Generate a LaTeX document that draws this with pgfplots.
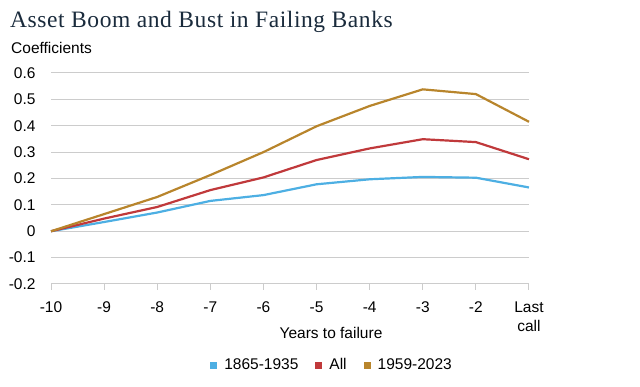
\documentclass[border=0pt]{standalone}
\usepackage{pgfplots}
\pgfplotsset{compat=1.18}
\usepackage{fontspec}
\setmainfont{Liberation Sans}
\newfontfamily\titlefont[LetterSpace=2.5]{Liberation Serif}
\definecolor{cblue}{HTML}{4DAFE3}
\definecolor{cred}{HTML}{C0393B}
\definecolor{cgold}{HTML}{B8852C}
\definecolor{navy}{HTML}{1A2B3C}
\definecolor{gridc}{HTML}{CCCCCC}
\begin{document}
\begin{tikzpicture}
\path[use as bounding box] (0pt,0pt) rectangle (640pt,387pt);
\node[anchor=base west,text=navy,font=\titlefont\fontsize{23.5}{27}\selectfont,inner sep=0pt] at (10pt,359pt) {Asset Boom and Bust in Failing Banks};
\node[anchor=west,font=\fontsize{15.5}{18}\selectfont,inner sep=0pt] at (11pt,339pt) {Coefficients};
\node[font=\fontsize{15.5}{18}\selectfont] at (331pt,54pt) {Years to failure};
\begin{axis}[
  at={(51pt,103pt)}, anchor=south west,
  scale only axis, width=478pt, height=211pt,
  xmin=0, xmax=9, ymin=-0.2, ymax=0.6,
  xtick={0,...,9},
  xticklabels={-10,-9,-8,-7,-6,-5,-4,-3,-2,{Last\\call}},
  xticklabel style={align=center, font=\fontsize{15.5}{19}\selectfont, yshift=-8pt},
  ytick={-0.2,-0.1,0,0.1,0.2,0.3,0.4,0.5,0.6},
  yticklabels={-0.2,-0.1,0,0.1,0.2,0.3,0.4,0.5,0.6},
  yticklabel style={font=\fontsize{15.5}{18}\selectfont, xshift=-6pt},
  /pgf/number format/assume math mode=true,
  axis x line*=bottom, axis y line*=left,
  y axis line style={draw=none},
  x axis line style={draw=gridc, line width=1pt},
  ytick style={draw=none},
  xtick style={draw=gridc, line width=1pt},
  tick align=outside, major tick length=6pt,
  ymajorgrids, grid style={gridc, line width=1pt},
  legend columns=3,
  legend style={draw=none, at={(0.588,-0.384)}, anchor=center, font=\fontsize{15.5}{18}\selectfont,
    /tikz/every odd column/.append style={column sep=5pt},
    /tikz/every even column/.append style={column sep=15pt}},
  legend image code/.code={\fill[#1,draw=none] (2pt,-3.5pt) rectangle (9pt,3.5pt);},
  clip=false,
]
\addplot[cblue, line width=2.2pt] coordinates {(0,0) (1,0.035) (2,0.071) (3,0.115) (4,0.137) (5,0.178) (6,0.197) (7,0.206) (8,0.203) (9,0.166)};
\addplot[cred, line width=2.2pt] coordinates {(0,0) (1,0.048) (2,0.092) (3,0.156) (4,0.204) (5,0.270) (6,0.314) (7,0.349) (8,0.338) (9,0.273)};
\addplot[cgold, line width=2.2pt] coordinates {(0,0) (1,0.065) (2,0.130) (3,0.213) (4,0.300) (5,0.398) (6,0.475) (7,0.538) (8,0.520) (9,0.415)};
\legend{1865-1935,All,1959-2023}
\end{axis}
\end{tikzpicture}
\end{document}
